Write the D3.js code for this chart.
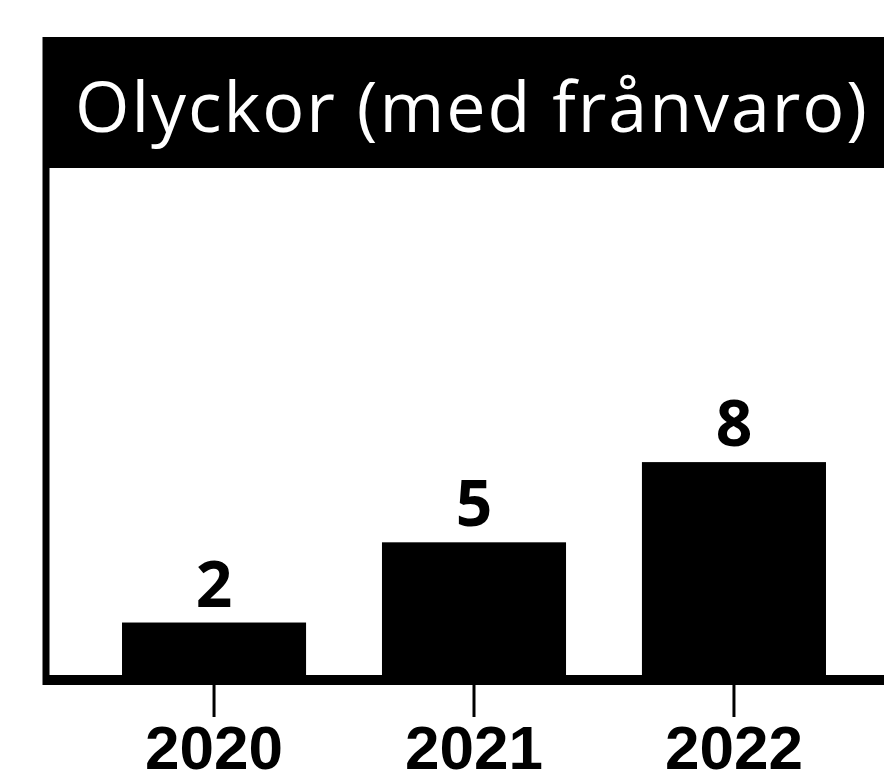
<!DOCTYPE html>
<html>

<head>
  <meta charset="utf-8">
  <title>Olyckor (med frånvaro)</title>
  <style>
    body {
      margin: 0;
      background: #fff;
    }

    .title {
      font-family: "Open Sans", sans-serif;
      font-size: 70px;
      fill: #fff;
    }

    .num {
      font-family: "Open Sans", sans-serif;
      font-weight: bold;
      font-size: 64px;
      fill: #000;
    }

    .year {
      font-family: "Liberation Sans", sans-serif;
      font-weight: bold;
      font-size: 62px;
      fill: #000;
    }
  </style>
</head>

<body>
  <script src="https://cdn.jsdelivr.net/npm/d3@7"></script>
  <script>
    var years = ["2020", "2021", "2022"];
    var accidents = [2, 5, 8];
    var title = "Olyckor (med frånvaro)";

    var width = 884,
      height = 783;
    var frame = { left: 43, top: 37, titleBottom: 168, base: 676 };

    var svg = d3.select("body").append("svg")
      .attr("width", width)
      .attr("height", height);

    var x = d3.scaleBand()
      .domain(years)
      .range([50, 898])
      .paddingInner(0.292)
      .paddingOuter(0.277);

    var y = d3.scaleLinear()
      .domain([0, 19])
      .range([frame.base, frame.titleBottom]);

    // titel
    svg.append("rect")
      .attr("x", frame.left)
      .attr("y", frame.top)
      .attr("width", width - frame.left)
      .attr("height", frame.titleBottom - frame.top)
      .attr("fill", "#000");

    svg.append("text")
      .attr("class", "title")
      .attr("x", 75)
      .attr("y", 132)
      .attr("textLength", 792)
      .attr("lengthAdjust", "spacing")
      .text(title);

    // staplar
    var data = years.map(function (d, i) {
      return { year: d, value: accidents[i] };
    });

    svg.append("g")
      .selectAll("rect")
      .data(data)
      .join("rect")
      .attr("x", d => x(d.year))
      .attr("y", d => y(d.value))
      .attr("width", x.bandwidth())
      .attr("height", d => y(0) - y(d.value))
      .attr("fill", "#000");

    svg.append("g")
      .selectAll("text")
      .data(data)
      .join("text")
      .attr("class", "num")
      .attr("text-anchor", "middle")
      .attr("x", d => x(d.year) + x.bandwidth() / 2)
      .attr("y", d => y(d.value) - 16)
      .text(d => d.value);

    // vänsterkant
    svg.append("line")
      .attr("x1", frame.left + 3)
      .attr("x2", frame.left + 3)
      .attr("y1", frame.top)
      .attr("y2", 685)
      .attr("stroke", "#000")
      .attr("stroke-width", 7);

    // x-axel
    var xAxis = d3.axisBottom(x)
      .tickSize(32)
      .tickPadding(16);

    var gx = svg.append("g")
      .attr("transform", "translate(0," + 685 + ")")
      .call(xAxis);

    gx.select(".domain").remove();
    gx.selectAll(".tick line")
      .attr("stroke", "#000")
      .attr("stroke-width", 3);
    gx.selectAll(".tick text")
      .attr("class", "year")
      .attr("fill", "#000")
      .attr("dy", null)
      .attr("y", 84);

    svg.append("rect")
      .attr("x", frame.left)
      .attr("y", frame.base - 1)
      .attr("width", width - frame.left)
      .attr("height", 10)
      .attr("fill", "#000");
  </script>
</body>

</html>
